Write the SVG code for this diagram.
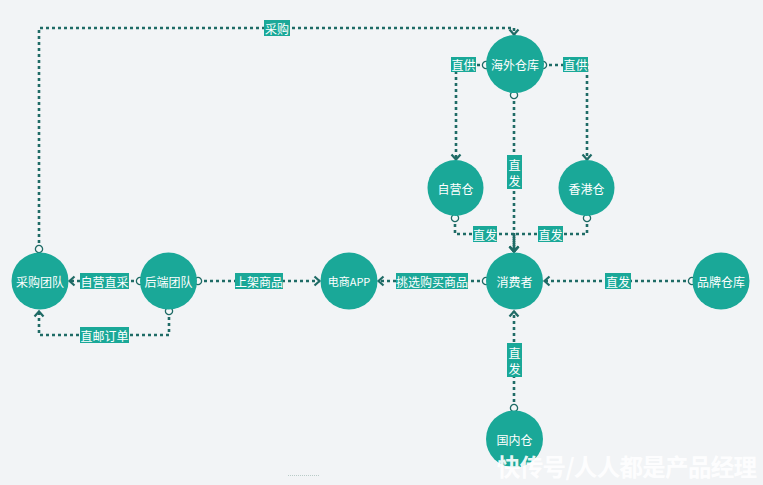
<svg xmlns="http://www.w3.org/2000/svg" width="763" height="485" viewBox="0 0 763 485">
<defs>
<style>
.node circle{fill:#1aa898}
.node text{fill:#ffffff;font-family:"Noto Sans CJK SC","Liberation Sans",sans-serif;font-size:12px;text-anchor:middle;dominant-baseline:central}
.conn path{fill:none;stroke:#1f6b66;stroke-width:2.6;stroke-dasharray:3 3}
.lbl rect{fill:#1aa898}
.lbl text{fill:#ffffff;font-family:"Noto Sans CJK SC","Liberation Sans",sans-serif;font-size:12px;text-anchor:middle;dominant-baseline:central}
</style>
<marker id="arr" markerUnits="userSpaceOnUse" markerWidth="14" markerHeight="14" viewBox="-8 -7 14 14" refX="0" refY="0" orient="auto">
<path d="M-5.5,-4.5 L-0.5,0 L-5.5,4.5" fill="none" stroke="#1f6b66" stroke-width="2.2"/>
</marker>
<marker id="dot" markerUnits="userSpaceOnUse" markerWidth="10" markerHeight="10" viewBox="-5 -5 10 10" refX="0" refY="0" orient="auto">
<circle r="3.6" fill="#f4f6f7" stroke="#1f6b66" stroke-width="1.3"/>
</marker>
</defs>
<rect width="763" height="485" fill="#f2f4f6"/>

<g id="connectors" class="conn">
<path d="M39,249 V28 H514 V35" marker-start="url(#dot)" marker-end="url(#arr)"/>
<path d="M486,65 H456 V160" marker-start="url(#dot)" marker-end="url(#arr)"/>
<path d="M543,65 H587 V160" marker-start="url(#dot)" marker-end="url(#arr)"/>
<path d="M514,95 V252" marker-start="url(#dot)" marker-end="url(#arr)"/>
<path d="M455,218 V234 H514 V252" marker-start="url(#dot)" marker-end="url(#arr)"/>
<path d="M587,218 V234 H514 V252" marker-start="url(#dot)" marker-end="url(#arr)"/>
<path d="M486,281 H378" marker-start="url(#dot)" marker-end="url(#arr)"/>
<path d="M198,281 H320" marker-start="url(#dot)" marker-end="url(#arr)"/>
<path d="M140,281 H69" marker-start="url(#dot)" marker-end="url(#arr)"/>
<path d="M169,311 V335 H39 V311" marker-start="url(#dot)" marker-end="url(#arr)"/>
<path d="M692,281 H544" marker-start="url(#dot)" marker-end="url(#arr)"/>
<path d="M514,408 V311" marker-start="url(#dot)" marker-end="url(#arr)"/>
</g>

<g id="labels" class="lbl">
<rect x="264" y="20" width="26" height="16"/><text x="277" y="28">采购</text>
<rect x="451" y="57" width="25" height="15"/><text x="463.5" y="64.5">直供</text>
<rect x="563" y="57" width="25" height="15"/><text x="575.5" y="64.5">直供</text>
<rect x="507" y="155" width="15" height="34"/><text x="514.5" y="164">直</text><text x="514.5" y="180">发</text>
<rect x="473" y="226" width="24" height="16"/><text x="485" y="234">直发</text>
<rect x="538" y="226" width="25" height="16"/><text x="550.5" y="234">直发</text>
<rect x="396" y="273" width="72" height="16"/><text x="432" y="281">挑选购买商品</text>
<rect x="235" y="273" width="48" height="16"/><text x="259" y="281">上架商品</text>
<rect x="80" y="273" width="49" height="16"/><text x="104.5" y="281">自营直采</text>
<rect x="80" y="327" width="49" height="16"/><text x="104.5" y="335">直邮订单</text>
<rect x="605" y="273" width="26" height="16"/><text x="618" y="281">直发</text>
<rect x="507" y="343" width="15" height="34"/><text x="514.5" y="352">直</text><text x="514.5" y="368">发</text>
</g>

<g id="node-haiwai" class="node"><circle cx="515" cy="64" r="29"/><text x="515" y="64">海外仓库</text></g>
<g id="node-ziying" class="node"><circle cx="455.5" cy="188" r="28"/><text x="455.5" y="188">自营仓</text></g>
<g id="node-xianggang" class="node"><circle cx="586.5" cy="188" r="28"/><text x="586.5" y="188">香港仓</text></g>
<g id="node-xiaofeizhe" class="node"><circle cx="514.5" cy="281" r="28.5"/><text x="514.5" y="281">消费者</text></g>
<g id="node-app" class="node"><circle cx="349" cy="281" r="28.5"/><text x="349" y="281" style="font-size:11px">电商APP</text></g>
<g id="node-houduan" class="node"><circle cx="168.5" cy="281" r="28.5"/><text x="168.5" y="281">后端团队</text></g>
<g id="node-caigou" class="node"><circle cx="40" cy="281" r="28.5"/><text x="40" y="281">采购团队</text></g>
<g id="node-pinpai" class="node"><circle cx="721" cy="281" r="28.5"/><text x="721" y="281">品牌仓库</text></g>
<g id="node-guonei" class="node"><circle cx="514.5" cy="439" r="28.5"/><text x="514.5" y="439">国内仓</text></g>

<line x1="288" y1="475.5" x2="320" y2="475.5" stroke="#b9cbc8" stroke-width="1" stroke-dasharray="1 1"/>
<text x="497" y="476" fill="#ffffff" fill-opacity="0.92" font-family="Noto Sans CJK SC, sans-serif" font-size="23.5" font-weight="bold" textLength="260">快传号/人人都是产品经理</text>
</svg>
